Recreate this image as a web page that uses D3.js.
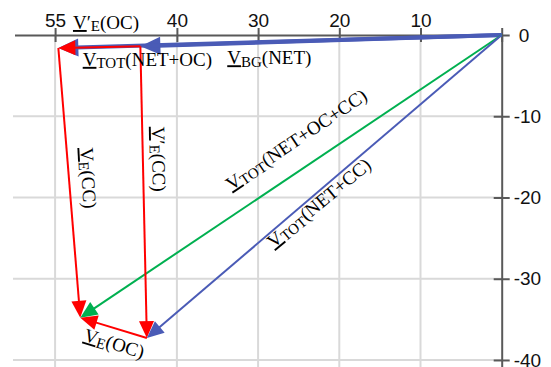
<!DOCTYPE html>
<html>
<head>
<meta charset="utf-8">
<script src="https://cdn.jsdelivr.net/npm/d3@7"></script>
<style>
  body { margin: 0; background: #fff; }
  .lbl { font-family: "Liberation Serif", "Times New Roman", serif; font-size: 19px; fill: #000; }
  .axis text { font-family: "Liberation Sans", Arial, sans-serif; font-size: 19px; fill: #111; }
</style>
</head>
<body>
<div id="chart"></div>
<script>
let width = 551;
let height = 367;

// axis ticks
let xTicks = [0, 10, 20, 30, 40, 55];
let yTicks = [0, -10, -20, -30, -40];

// points where the vectors start / end (x = value along top axis, y = value along right axis)
let pointNames = ["O", "BG", "TOT_OC", "TOT_ALL", "TOT_CC"];
let pointX = [0, 44.5, 54.6, 51.9, 43.7];
let pointY = [0, -1.4, -1.6, -34.8, -37.3];

// vectors, in drawing order
let vecFrom = ["O", "O", "BG", "TOT_OC", "O", "BG", "O", "TOT_CC"];
let vecTo = ["BG", "TOT_OC", "TOT_OC", "TOT_ALL", "TOT_ALL", "TOT_CC", "TOT_CC", "TOT_ALL"];
let vecColor = ["#4a5bb6", "#4a5bb6", "#ff0000", "#ff0000", "#00b050", "#ff0000", "#4a5bb6", "#ff0000"];
let vecWidth = [4, 4, 2, 2, 2, 2, 2, 2];

// labels
let labelPrime = [true, false, false, false, true, false, false, false];
let labelSub = ["E", "TOT", "BG", "E", "E", "TOT", "TOT", "E"];
let labelTail = ["(OC)", "(NET+OC)", "(NET)", "(CC)", "(CC)", "(NET+OC+CC)", "(NET+CC)", "(OC)"];
let labelX = [52.8, 51.6, 33.8, 51.9, 43.1, 33.3, 28.1, 51.6];
let labelY = [0.74, -3.8, -3.6, -13.9, -11.3, -19.2, -26.3, -37.6];
let labelAngle = [0, 0, 0, 87, 89, -33.9, -39.5, 17];

let svg = d3.select("#chart")
    .append("svg")
    .attr("width", width)
    .attr("height", height);

// reversed x axis: 0 on the right
let xScale = d3.scaleLinear().domain([0, 60]).range([501.7, 14.5]);
let yScale = d3.scaleLinear().domain([0, -41]).range([35, 368.1]);

// gridlines
let grid = svg.append("g")
    .attr("stroke", "#d9d9d9")
    .attr("stroke-width", 2);

grid.selectAll(".vg")
    .data(xTicks.filter(d => d !== 0))
    .enter().append("line")
    .attr("x1", d => xScale(d)).attr("x2", d => xScale(d))
    .attr("y1", yScale(0)).attr("y2", height);

grid.selectAll(".hg")
    .data(yTicks.filter(d => d !== 0))
    .enter().append("line")
    .attr("x1", 13).attr("x2", xScale(0))
    .attr("y1", d => yScale(d)).attr("y2", d => yScale(d));

// axes
let xAxis = d3.axisTop(xScale)
    .tickValues(xTicks)
    .tickSizeInner(7)
    .tickSizeOuter(0)
    .tickFormat(d => d === 0 ? "" : d);  // the 0 is labelled on the y axis only

let gx = svg.append("g")
    .attr("class", "axis")
    .attr("transform", "translate(0," + yScale(0) + ")")
    .call(xAxis);

let yAxis = d3.axisRight(yScale)
    .tickValues(yTicks)
    .tickSizeInner(8)
    .tickSizeOuter(0)
    .tickFormat(d => d === 0 ? "0" : "-" + Math.abs(d));

let gy = svg.append("g")
    .attr("class", "axis")
    .attr("transform", "translate(" + xScale(0) + ",0)")
    .call(yAxis);

// ticks cross the axis lines
gx.selectAll(".tick line").attr("y1", 7).attr("y2", -7);
gy.selectAll(".tick line").attr("x1", -8).attr("x2", 8);
gy.selectAll(".tick text").attr("x", d => d === 0 ? 17 : 12);
gx.selectAll(".tick text").attr("y", -8);

svg.selectAll(".axis .domain, .axis .tick line")
    .attr("stroke", "#595959")
    .attr("stroke-width", 2);

// vectors
function pt(name) {
    let i = pointNames.indexOf(name);
    return [xScale(pointX[i]), yScale(pointY[i])];
}

let vecs = svg.append("g");

vecFrom.forEach(function(f, i) {
    let a = pt(f), b = pt(vecTo[i]);
    let dx = b[0] - a[0], dy = b[1] - a[1];
    let len = Math.hypot(dx, dy);
    let ux = dx / len, uy = dy / len;
    let headLen = vecWidth[i] > 2 ? 20 : 17;
    let headHalf = vecWidth[i] > 2 ? 9 : 7.5;
    let bx = b[0] - ux * headLen, by = b[1] - uy * headLen;

    vecs.append("line")
        .attr("x1", a[0]).attr("y1", a[1])
        .attr("x2", bx + ux * 2).attr("y2", by + uy * 2)
        .attr("stroke", vecColor[i])
        .attr("stroke-width", vecWidth[i]);

    vecs.append("path")
        .attr("d", "M" + b[0] + "," + b[1] +
            "L" + (bx - uy * headHalf) + "," + (by + ux * headHalf) +
            "L" + (bx + uy * headHalf) + "," + (by - ux * headHalf) + "Z")
        .attr("fill", vecColor[i]);
});

// labels
labelSub.forEach(function(s, i) {
    let t = svg.append("text")
        .attr("class", "lbl")
        .attr("transform", "translate(" + xScale(labelX[i]) + "," + yScale(labelY[i]) + ") rotate(" + labelAngle[i] + ")");

    t.append("tspan")
        .style("text-decoration", "underline")
        .text("V");
    if (labelPrime[i]) t.append("tspan").text("\u2032");
    t.append("tspan")
        .attr("font-size", "15px")
        .attr("dy", 2.5)
        .text(s);
    t.append("tspan")
        .attr("dy", -2.5)
        .text(labelTail[i]);
});
</script>
</body>
</html>
